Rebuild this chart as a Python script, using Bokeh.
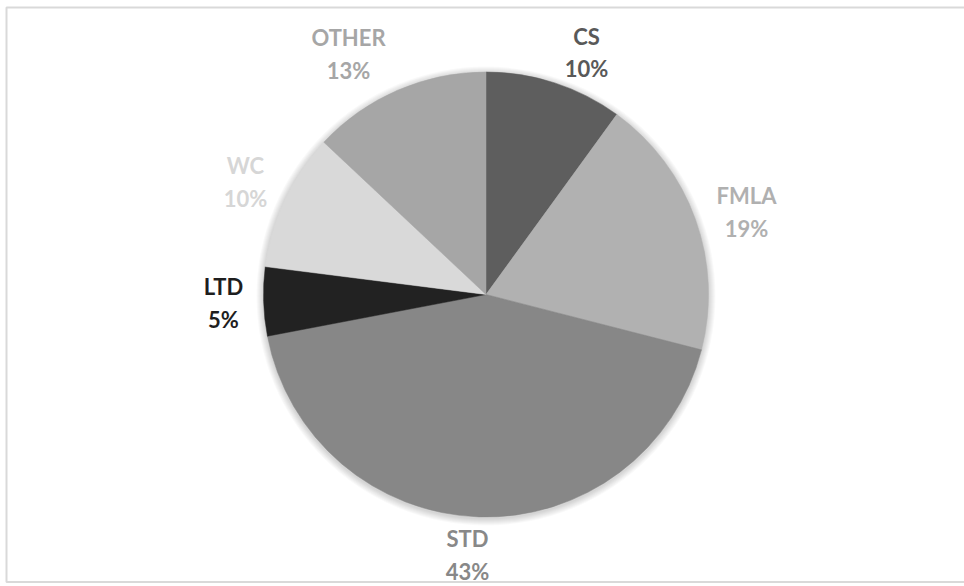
import math

from bokeh.core.properties import value
from bokeh.embed import file_html
from bokeh.models import ColumnDataSource, Range1d
from bokeh.plotting import figure
from bokeh.resources import INLINE

# Share of cases by leave type, clockwise from 12 o'clock
categories = ["CS", "FMLA", "STD", "LTD", "WC", "OTHER"]
shares = [10, 19, 43, 5, 10, 13]
slice_colors = ["#5e5e5e", "#b1b1b1", "#878787", "#222222", "#d9d9d9", "#a6a6a6"]
label_colors = ["#595959", "#b0b0b0", "#888888", "#1e1e1e", "#d6d6d6", "#a6a6a6"]

# Label anchors in page pixels (centre x, baseline of first line)
label_x = [586, 746, 467, 223, 245, 348]
label_base = [35.5, 195, 538, 286, 165, 37]

W, H = 964, 586
CX, CY, R = 485.5, 294, 222.5


def py(y):
    """Page pixel row -> data y (data origin at the bottom)."""
    return H - y


total = float(sum(shares))
starts, ends, cum = [], [], 0.0
for s in shares:
    a0 = math.pi / 2 - 2 * math.pi * cum / total
    cum += s
    a1 = math.pi / 2 - 2 * math.pi * cum / total
    starts.append(a0)
    ends.append(a1)

src = ColumnDataSource(dict(
    cat=categories, share=shares, start=starts, end=ends,
    color=slice_colors,
))

p = figure(width=W, height=H, x_range=Range1d(0, W), y_range=Range1d(0, H),
           x_axis_type=None, y_axis_type=None, toolbar_location=None,
           output_backend="svg", min_border=0, outline_line_color=None,
           background_fill_color="white", border_fill_color="white")
p.grid.visible = False

# chart-area frame
p.quad(left=6, right=W + 4, top=py(7), bottom=py(581.5), fill_color=None,
       line_color="#d9d9d9", line_width=2)

# soft shadow around the pie
for k in range(1, 8):
    p.circle(x=CX, y=py(CY + 1.5), radius=R + k, fill_color="black",
             fill_alpha=0.022, line_color=None)

p.wedge(x=CX, y=py(CY), radius=R, start_angle="start", end_angle="end",
        direction="clock", fill_color="color", line_color="color",
        line_width=0.5, source=src)

names_src = ColumnDataSource(dict(
    x=label_x, y=[py(b) for b in label_base], text=categories,
    color=label_colors,
))
pct_src = ColumnDataSource(dict(
    x=label_x, y=[py(b + 32.5) for b in label_base],
    text=[f"{round(100 * s / total)}%" for s in shares], color=label_colors,
))
for s in (names_src, pct_src):
    p.text(x="x", y="y", text="text", source=s, text_color="color",
           text_font=value("Lato"), text_font_style="bold",
           text_font_size="22px", text_align="center",
           text_baseline="alphabetic")

open("out.html", "w").write(file_html(p, INLINE))
